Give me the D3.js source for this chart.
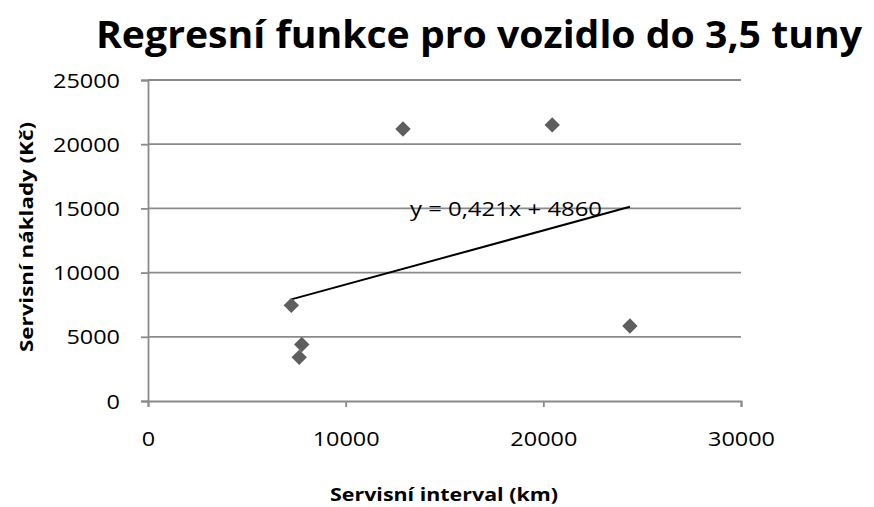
<!DOCTYPE html>
<html>
<head>
<meta charset="utf-8">
<script src="https://cdn.jsdelivr.net/npm/d3@7"></script>
<style>
  body { margin: 0; background: #fff; }
  text { font-family: "Open Sans", sans-serif; fill: #000; }
</style>
</head>
<body>
<div id="chart"></div>
<script>
var width = 874;
var height = 507;

// data
var intervalKm = [7250, 7780, 7650, 12900, 20450, 24380];
var costKc = [7450, 4400, 3400, 21180, 21500, 5840];
var xTicks = [0, 10000, 20000, 30000];
var yTicks = [0, 5000, 10000, 15000, 20000, 25000];
var trendSlope = 0.421;
var trendIntercept = 4860;
var trendLabel = "y = 0,421x + 4860";

var points = intervalKm.map(function(d, i) { return {x: d, y: costKc[i]}; });

var x = d3.scaleLinear().domain([0, 30000]).range([148, 741]);
var y = d3.scaleLinear().domain([0, 25000]).range([401, 80]);

var svg = d3.select("#chart").append("svg")
  .attr("width", width)
  .attr("height", height);

// digit width in the picture is about 13.4px
function stretch(sel) {
  sel.attr("textLength", function(d) { return String(d).length * 13.4; })
     .attr("lengthAdjust", "spacingAndGlyphs");
}

// gridlines
svg.append("g")
  .selectAll("line")
  .data(yTicks.slice(1))
  .enter()
  .append("line")
  .attr("x1", x(0))
  .attr("x2", x(30000))
  .attr("y1", function(d) { return y(d); })
  .attr("y2", function(d) { return y(d); })
  .attr("stroke", "#8a8a8a")
  .attr("stroke-width", 1.8);

// y axis
var yAxis = svg.append("g")
  .attr("transform", "translate(" + x(0) + ",0)")
  .call(d3.axisLeft(y).tickValues(yTicks).tickSize(7).tickPadding(21).tickFormat(d3.format("d")));
yAxis.selectAll(".domain, .tick line").attr("stroke", "#8a8a8a").attr("stroke-width", 1.8);
yAxis.selectAll("text")
  .attr("font-size", 19.5)
  .attr("font-family", "Open Sans, sans-serif")
  .attr("dy", "0.36em")
  .call(stretch);

// x axis
var xAxis = svg.append("g")
  .attr("transform", "translate(0," + y(0) + ")")
  .call(d3.axisBottom(x).tickValues(xTicks).tickSize(6).tickPadding(27).tickFormat(d3.format("d")));
xAxis.selectAll(".domain, .tick line").attr("stroke", "#8a8a8a").attr("stroke-width", 1.8);
xAxis.selectAll("text")
  .attr("font-size", 19.5)
  .attr("font-family", "Open Sans, sans-serif")
  .attr("dy", "0.6em")
  .call(stretch);

// trend line over the data range
var xExt = d3.extent(intervalKm);
svg.append("line")
  .attr("x1", x(xExt[0]))
  .attr("y1", y(trendSlope * xExt[0] + trendIntercept))
  .attr("x2", x(xExt[1]))
  .attr("y2", y(trendSlope * xExt[1] + trendIntercept))
  .attr("stroke", "#000")
  .attr("stroke-width", 2);

// points
var diamond = d3.symbol().type(d3.symbolSquare).size(118);
svg.append("g")
  .selectAll("path")
  .data(points)
  .enter()
  .append("path")
  .attr("d", diamond)
  .attr("transform", function(d) { return "translate(" + x(d.x) + "," + y(d.y) + ") rotate(45)"; })
  .attr("fill", "#5e5e5e");

// equation label
svg.append("text")
  .attr("x", 410)
  .attr("y", 216)
  .attr("font-size", 19.5)
  .attr("textLength", 192)
  .attr("lengthAdjust", "spacingAndGlyphs")
  .text(trendLabel);

// title
svg.append("text")
  .attr("x", 96)
  .attr("y", 48)
  .attr("font-size", 38)
  .attr("font-weight", "bold")
  .attr("textLength", 766)
  .attr("lengthAdjust", "spacingAndGlyphs")
  .text("Regresní funkce pro vozidlo do 3,5 tuny");

// axis titles
svg.append("text")
  .attr("x", 330)
  .attr("y", 501)
  .attr("font-size", 18.5)
  .attr("font-weight", "bold")
  .attr("textLength", 228)
  .attr("lengthAdjust", "spacingAndGlyphs")
  .text("Servisní interval (km)");

svg.append("text")
  .attr("transform", "translate(33,352) rotate(-90)")
  .attr("font-size", 18.5)
  .attr("font-weight", "bold")
  .attr("textLength", 230)
  .attr("lengthAdjust", "spacingAndGlyphs")
  .text("Servisní náklady  (Kč)");
</script>
</body>
</html>
